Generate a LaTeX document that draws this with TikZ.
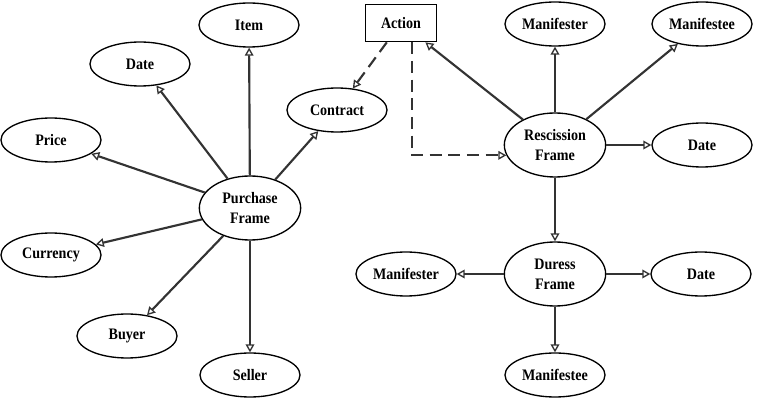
\documentclass[tikz,border=0pt]{standalone}
\usepackage{fontspec}
\setmainfont{Liberation Serif}[FakeStretch=0.88]
\usetikzlibrary{shapes.geometric,arrows.meta}
\begin{document}
\begin{tikzpicture}[x=0.75pt,y=-0.75pt,
 leaf/.style={ellipse,draw,line width=1pt,fill=white,minimum width=75pt,minimum height=33pt,inner sep=0pt,font=\fontsize{12}{15}\selectfont\bfseries},
 frame/.style={leaf,minimum width=76pt,minimum height=48pt,align=center},
 boxnode/.style={rectangle,draw,line width=1pt,fill=white,minimum width=53pt,minimum height=28pt,inner sep=0pt,font=\fontsize{12}{15}\selectfont\bfseries},
 conn/.style={line width=1.6pt,draw=black!80,-{Triangle[open,length=6pt,width=6.5pt,line width=1pt]}},
 dconn/.style={conn,dash pattern=on 9pt off 5pt}]
\useasboundingbox (0,0) rectangle (757,402);
% left frame
\node[frame] (purchase) at (250,208) {Purchase\\Frame};
\node[leaf] (item) at (249,25) {Item};
\node[leaf] (dateL) at (140,64) {Date};
\node[leaf] (contract) at (337,110) {Contract};
\node[leaf] (price) at (51,140) {Price};
\node[leaf] (currency) at (51,255) {Currency};
\node[leaf] (buyer) at (127,336) {Buyer};
\node[leaf] (seller) at (250,375) {Seller};
% action
\node[boxnode] (action) at (401,23) {Action};
% rescission frame
\node[frame] (resc) at (555,145) {Rescission\\Frame};
\node[leaf] (manTop) at (555,24) {Manifester};
\node[leaf] (mateTop) at (702,24) {Manifestee};
\node[leaf] (dateR) at (702,145) {Date};
% duress frame
\node[frame] (duress) at (555,274) {Duress\\Frame};
\node[leaf] (manBot) at (406,274) {Manifester};
\node[leaf] (dateB) at (701,274) {Date};
\node[leaf] (mateBot) at (555,375) {Manifestee};
% connectors
\draw[conn] (purchase) -- (item);
\draw[conn] (purchase) -- (dateL);
\draw[conn] (purchase) -- (contract);
\draw[conn] (purchase) -- (price);
\draw[conn] (purchase) -- (currency);
\draw[conn] (purchase) -- (buyer);
\draw[conn] (purchase) -- (seller);
\draw[dconn] (action) -- (contract);
\coordinate (actdash) at (412,23);
\draw[dconn] (actdash |- action.south) |- (resc.192);
\draw[conn] (resc) -- (action);
\draw[conn] (resc) -- (manTop);
\draw[conn] (resc) -- (mateTop);
\draw[conn] (resc) -- (dateR);
\draw[conn] (resc) -- (duress);
\draw[conn] (duress) -- (manBot);
\draw[conn] (duress) -- (dateB);
\draw[conn] (duress) -- (mateBot);
\end{tikzpicture}
\end{document}
